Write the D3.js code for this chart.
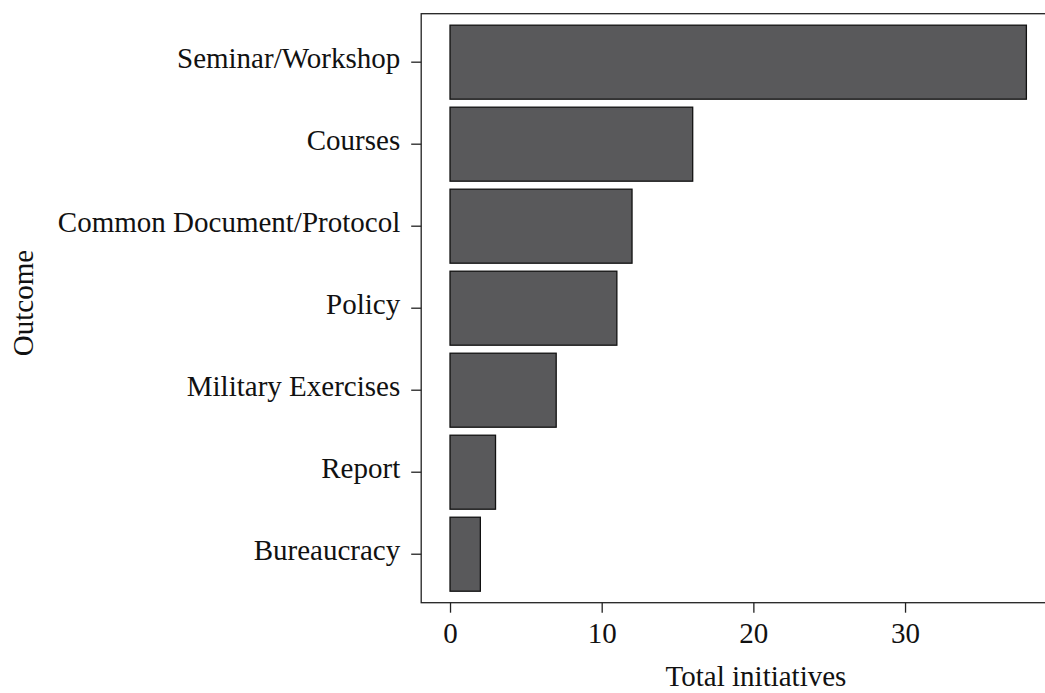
<!DOCTYPE html>
<html>
<head>
<meta charset="utf-8">
<script src="https://cdn.jsdelivr.net/npm/d3@7"></script>
<style>
  html, body { margin: 0; padding: 0; background: #fff; }
  svg { display: block; }
  text { font-family: "Liberation Serif", "DejaVu Serif", serif; fill: #111; }
</style>
</head>
<body>
<svg id="chart" width="1045" height="693"></svg>
<script>
const categories = ["Seminar/Workshop", "Courses", "Common Document/Protocol", "Policy", "Military Exercises", "Report", "Bureaucracy"];
const values = [38, 16, 12, 11, 7, 3, 2];
const xTicks = [0, 10, 20, 30];
const xLabel = "Total initiatives";
const yLabel = "Outcome";

const data = categories.map((c, i) => ({ category: c, value: values[i] }));

const svg = d3.select("#chart");
const pLeft = 421.2, pRight = 1055.2, pTop = 13.7, pBottom = 602.7;
const fontSize = 29;

const maxV = d3.max(values);
const pad = 0.05 * maxV;
const x = d3.scaleLinear().domain([-pad, maxV + pad]).range([pLeft, pRight]);
const y = d3.scaleBand().domain(categories).range([pTop, pBottom])
  .paddingInner(0.0976).paddingOuter(0.14);

// bars
svg.append("g").selectAll("rect").data(data).join("rect")
  .attr("x", x(0))
  .attr("y", d => y(d.category))
  .attr("width", d => x(d.value) - x(0))
  .attr("height", y.bandwidth())
  .attr("fill", "#59595b")
  .attr("stroke", "#111")
  .attr("stroke-width", 1.3);

// frame
svg.append("rect")
  .attr("x", pLeft).attr("y", pTop)
  .attr("width", pRight - pLeft).attr("height", pBottom - pTop)
  .attr("fill", "none").attr("stroke", "#222").attr("stroke-width", 1.3);

// x axis
const xAxis = svg.append("g")
  .attr("transform", `translate(0,${pBottom})`)
  .call(d3.axisBottom(x).tickValues(xTicks).tickFormat(d3.format("d"))
    .tickSize(10).tickPadding(10).tickSizeOuter(0));
xAxis.select(".domain").remove();
xAxis.selectAll(".tick line").attr("stroke", "#222").attr("stroke-width", 1.3);
xAxis.selectAll(".tick text").attr("font-size", fontSize)
  .attr("font-family", "Liberation Serif, DejaVu Serif, serif").attr("fill", "#111");

// y axis
const yAxis = svg.append("g")
  .attr("transform", `translate(${pLeft},0)`)
  .call(d3.axisLeft(y).tickSize(10).tickPadding(11).tickSizeOuter(0));
yAxis.select(".domain").remove();
yAxis.selectAll(".tick line").attr("stroke", "#222").attr("stroke-width", 1.3);
yAxis.selectAll(".tick text").attr("font-size", fontSize)
  .attr("font-family", "Liberation Serif, DejaVu Serif, serif").attr("fill", "#111")
  .attr("dy", "0.2em");

// axis labels
svg.append("text")
  .attr("x", 756).attr("y", 686)
  .attr("text-anchor", "middle")
  .attr("font-size", fontSize)
  .text(xLabel);

svg.append("text")
  .attr("transform", "translate(33,303) rotate(-90)")
  .attr("text-anchor", "middle")
  .attr("font-size", fontSize)
  .text(yLabel);
</script>
</body>
</html>
